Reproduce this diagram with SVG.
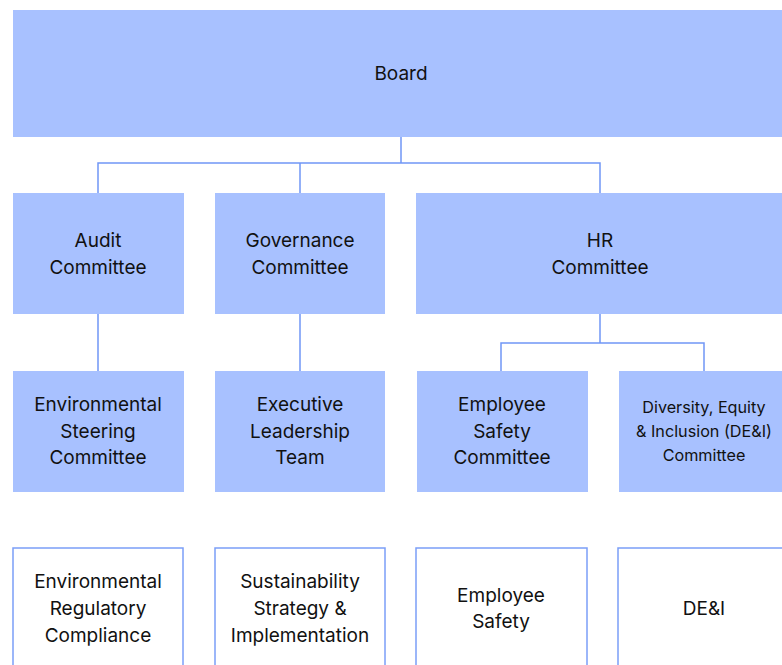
<svg xmlns="http://www.w3.org/2000/svg" width="782" height="665" viewBox="0 0 782 665">
<style>
.n{fill:#a8c1ff}
.o{fill:#fff;stroke:#7b9ef8;stroke-width:1.5}
.c{fill:none;stroke:#7096f6;stroke-width:1.5}
text{font-family:Inter,"Noto Sans","Liberation Sans",sans-serif;font-size:19px;fill:#111;text-anchor:middle}
.s{font-size:16.2px}
</style>
<rect width="782" height="665" fill="#fff"/>
<g id="connectors">
<path class="c" d="M401 137V163M98 193V163H600V193M300 163V193"/>
<path class="c" d="M98 314V371M300 314V371"/>
<path class="c" d="M600 314V343M501 371V343H704V371"/>
</g>
<g id="board"><rect class="n" x="13" y="10" width="775" height="127"/><text x="401" y="80">Board</text></g>
<g id="audit"><rect class="n" x="13" y="193" width="171" height="121"/><text x="98" y="247">Audit</text><text x="98" y="274">Committee</text></g>
<g id="governance"><rect class="n" x="215" y="193" width="170" height="121"/><text x="300" y="247">Governance</text><text x="300" y="274">Committee</text></g>
<g id="hr"><rect class="n" x="416" y="193" width="372" height="121"/><text x="600" y="247">HR</text><text x="600" y="274">Committee</text></g>
<g id="env-steering"><rect class="n" x="13" y="371" width="171" height="121"/><text x="98" y="411">Environmental</text><text x="98" y="438">Steering</text><text x="98" y="464">Committee</text></g>
<g id="exec"><rect class="n" x="215" y="371" width="170" height="121"/><text x="300" y="411">Executive</text><text x="300" y="438">Leadership</text><text x="300" y="464">Team</text></g>
<g id="emp-safety-comm"><rect class="n" x="417" y="371" width="171" height="121"/><text x="502" y="411">Employee</text><text x="502" y="438">Safety</text><text x="502" y="464">Committee</text></g>
<g id="dei-comm"><rect class="n" x="619" y="371" width="170" height="121"/><text class="s" x="704" y="413">Diversity, Equity</text><text class="s" x="704" y="437">&amp; Inclusion (DE&amp;I)</text><text class="s" x="704" y="461">Committee</text></g>
<g id="env-reg"><rect class="o" x="13" y="548" width="170" height="130"/><text x="98" y="588">Environmental</text><text x="98" y="615">Regulatory</text><text x="98" y="642">Compliance</text></g>
<g id="sustain"><rect class="o" x="215" y="548" width="170" height="130"/><text x="300" y="588">Sustainability</text><text x="300" y="615">Strategy &amp;</text><text x="300" y="642">Implementation</text></g>
<g id="emp-safety"><rect class="o" x="416" y="548" width="171" height="130"/><text x="501" y="602">Employee</text><text x="501" y="628">Safety</text></g>
<g id="dei"><rect class="o" x="618" y="548" width="180" height="130"/><text x="704" y="615">DE&amp;I</text></g>
</svg>
